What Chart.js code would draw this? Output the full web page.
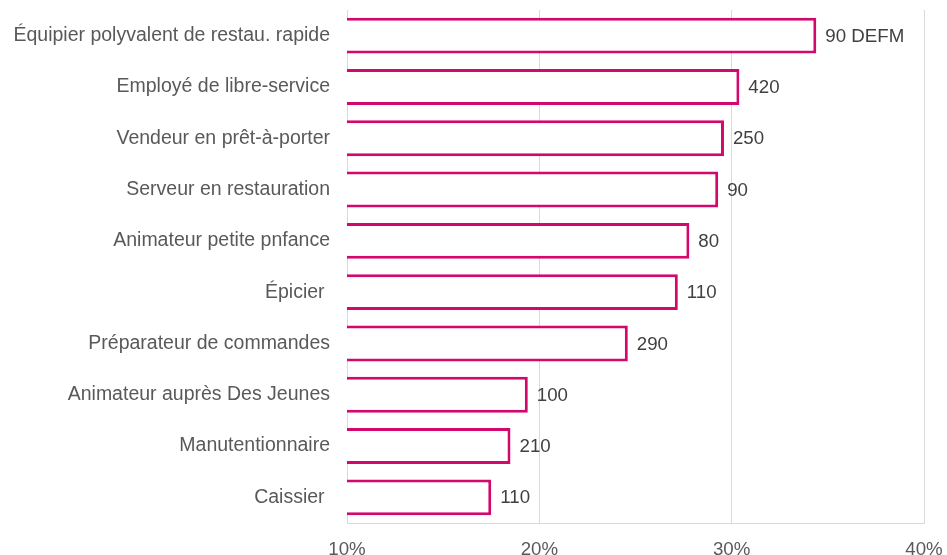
<!DOCTYPE html>
<html>
<head>
<meta charset="utf-8">
<script src="https://cdn.jsdelivr.net/npm/chart.js@4/dist/chart.umd.min.js"></script>
<style>
  html, body { margin: 0; padding: 0; background: #ffffff; }
  #wrap { width: 947px; height: 555px; position: relative; }
</style>
</head>
<body>
<div id="wrap"><canvas id="c"></canvas></div>
<script>
const categories = [
  "Équipier polyvalent de restau. rapide",
  "Employé de libre-service",
  "Vendeur en prêt-à-porter",
  "Serveur en restauration",
  "Animateur petite pnfance",
  "Épicier ",
  "Préparateur de commandes",
  "Animateur auprès Des Jeunes",
  "Manutentionnaire",
  "Caissier "
];
const shares = [34.4, 30.4, 29.6, 29.3, 27.8, 27.2, 24.6, 19.4, 18.5, 17.5];
const barLabels = ["90 DEFM", "420", "250", "90", "80", "110", "290", "100", "210", "110"];
const xTicks = [10, 20, 30, 40];

const FONT = "'Liberation Sans', Arial, sans-serif";
const FSIZE = 18.7;
const CAT_FSIZE = 19.5;
const PINK = "#d2086c";

const valueLabels = {
  id: "valueLabels",
  afterDatasetsDraw(chart) {
    const ctx = chart.ctx;
    const meta = chart.getDatasetMeta(0);
    ctx.save();
    ctx.font = FSIZE + "px " + FONT;
    ctx.fillStyle = "#404040";
    ctx.textAlign = "left";
    ctx.textBaseline = "middle";
    meta.data.forEach((bar, i) => {
      ctx.fillText(barLabels[i], bar.x + 9, bar.y + 1);
    });
    ctx.restore();
  }
};

new Chart(document.getElementById("c"), {
  type: "bar",
  data: {
    labels: categories,
    datasets: [{
      data: shares,
      backgroundColor: "#ffffff",
      borderColor: PINK,
      borderWidth: 3,
      borderSkipped: false,
      barPercentage: 0.7,
      categoryPercentage: 1.0
    }]
  },
  options: {
    indexAxis: "y",
    responsive: true,
    maintainAspectRatio: false,
    animation: false,
    layout: { padding: { top: 10, right: 23, bottom: 0, left: 0 } },
    plugins: { legend: { display: false }, tooltip: { enabled: false } },
    scales: {
      x: {
        min: 10, max: 40,
        afterBuildTicks(scale) { scale.ticks = xTicks.map(v => ({ value: v })); },
        afterFit(scale) {
          scale.height = 32;
          scale.paddingLeft = 0; scale.paddingRight = 0;
        },
        grid: { color: "#d9d9d9", lineWidth: 1, drawTicks: false },
        border: { display: true, color: "#d9d9d9", width: 1 },
        ticks: {
          padding: 16,
          color: "#595959",
          font: { family: FONT, size: FSIZE },
          callback: v => v + "%"
        }
      },
      y: {
        afterFit(scale) {
          scale.width = 347;
          scale.paddingTop = 0; scale.paddingBottom = 0;
        },
        grid: { display: false, drawTicks: false },
        border: { display: true, color: "#d9d9d9", width: 1 },
        ticks: {
          padding: 17,
          color: "#595959",
          font: { family: FONT, size: CAT_FSIZE }
        }
      }
    }
  },
  plugins: [valueLabels]
});
</script>
</body>
</html>
